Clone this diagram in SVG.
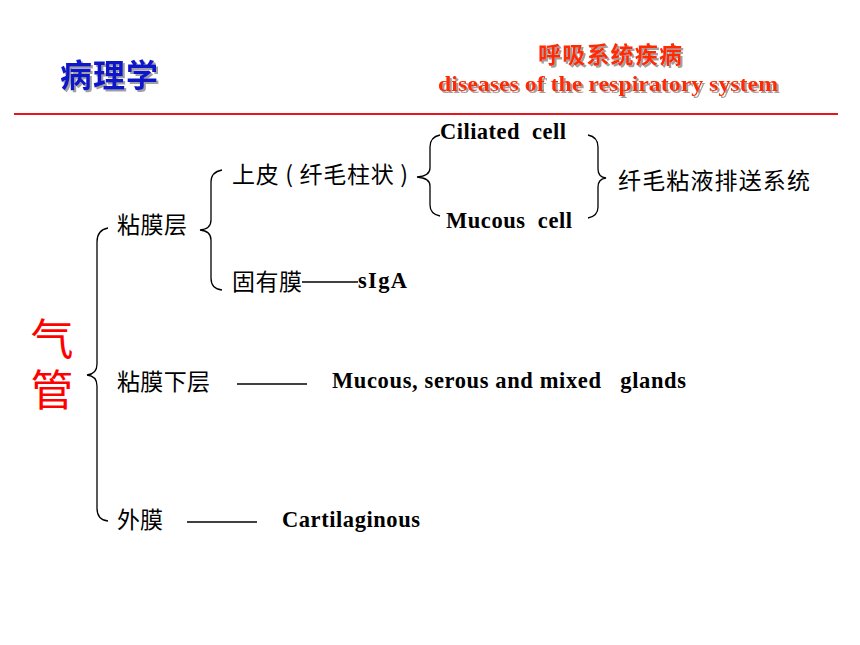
<svg xmlns="http://www.w3.org/2000/svg" width="860" height="645" viewBox="0 0 860 645">
<defs>
<filter id="sh" x="-10%" y="-20%" width="120%" height="150%">
<feDropShadow dx="2" dy="2" stdDeviation="0.6" flood-color="#888" flood-opacity="0.8"/>
</filter>
</defs>
<style>
.cn{font-family:"Noto Sans CJK SC","Noto Sans",sans-serif;font-size:23px;fill:#000}
.en{font-family:"Liberation Serif","Times New Roman",serif;font-weight:bold;font-size:22.5px;fill:#000}
.br{fill:none;stroke:#000;stroke-width:1.3}
.ln{stroke:#000;stroke-width:1.3}
.hd{font-weight:bold;filter:url(#sh)}
</style>
<rect width="860" height="645" fill="#fff"/>
<g id="header">
<text class="hd" x="60" y="87" textLength="98" style="font-family:'Noto Sans CJK SC',sans-serif;font-size:32px" fill="#0a14c8">病理学</text>
<text class="hd" x="538" y="63" textLength="144" style="font-family:'Noto Sans CJK SC',sans-serif;font-size:23px" fill="#ff2a00">呼吸系统疾病</text>
<text class="hd" x="438" y="91" textLength="340" lengthAdjust="spacingAndGlyphs" style="font-family:'Liberation Serif',serif;font-size:22px" fill="#ff2a00">diseases of the respiratory system</text>
<line x1="14" y1="114" x2="838" y2="114" stroke="#e8141e" stroke-width="2"/>
</g>
<g id="connectors">
<path class="br" d="M108,228 Q97,230 97,242 L97,364 Q97,374 87,375 Q97,376 97,386 L97,508 Q97,520 108,521"/>
<path class="br" d="M222,170 Q211,172 211,182 L211,220 Q211,229 200,230 Q211,231 211,240 L211,278 Q211,289 222,290"/>
<path class="br" d="M440,135 Q430,137 430,147 L430,168 Q430,176 417,177 Q430,178 430,186 L430,205 Q430,214 440,216"/>
<path class="br" d="M588,135 Q598,137 598,147 L598,169 Q598,177 606,178 Q598,179 598,187 L598,207 Q598,216 588,218"/>
<line class="ln" x1="302" y1="282" x2="358" y2="282"/>
<line class="ln" x1="237" y1="384" x2="307" y2="384"/>
<line class="ln" x1="187" y1="522" x2="257" y2="522"/>
</g>
<g id="n-qiguan">
<text x="52" y="317" style="font-family:'Noto Sans CJK SC',sans-serif;font-size:43px;writing-mode:vertical-rl;letter-spacing:8px" fill="#ff0000">气管</text>
</g>
<g id="n-mucosa"><text class="cn" x="117" y="233" textLength="70">粘膜层</text></g>
<g id="n-epithelium"><text class="cn" x="232" y="183" textLength="176" xml:space="preserve">上皮 ( 纤毛柱状 )</text></g>
<g id="n-ciliated"><text class="en" x="440" y="139" textLength="126" xml:space="preserve">Ciliated  cell</text></g>
<g id="n-mucous"><text class="en" x="446" y="228" textLength="126" xml:space="preserve">Mucous  cell</text></g>
<g id="n-system"><text class="cn" x="618" y="189" textLength="192">纤毛粘液排送系统</text></g>
<g id="n-lamina"><text class="cn" x="232" y="290" textLength="70">固有膜</text></g>
<g id="n-siga"><text class="en" x="358" y="288" textLength="49">sIgA</text></g>
<g id="n-submucosa"><text class="cn" x="117" y="390" textLength="93">粘膜下层</text></g>
<g id="n-glands"><text class="en" x="332" y="388" textLength="354" xml:space="preserve">Mucous, serous and mixed   glands</text></g>
<g id="n-adventitia"><text class="cn" x="117" y="528" textLength="46">外膜</text></g>
<g id="n-cartilage"><text class="en" x="282" y="527" textLength="138">Cartilaginous</text></g>
</svg>
